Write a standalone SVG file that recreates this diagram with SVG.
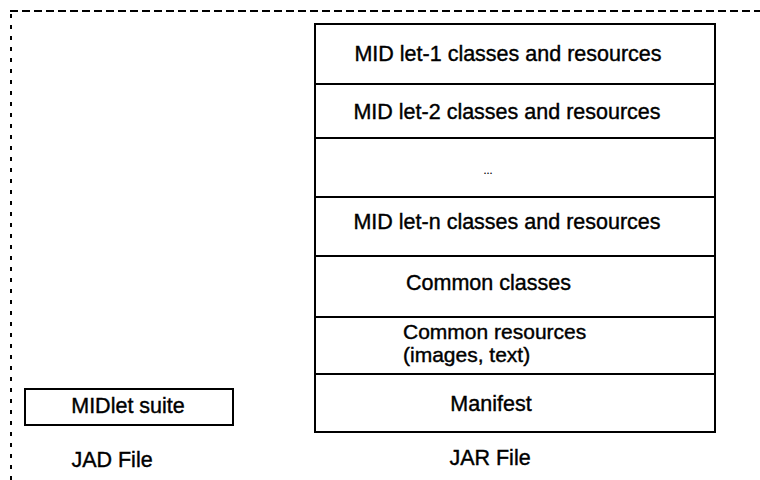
<svg xmlns="http://www.w3.org/2000/svg" width="760" height="480" viewBox="0 0 760 480">
  <style>
    .bg { fill: #ffffff; }
    .frame-top { fill: none; stroke: #000; stroke-width: 2; stroke-dasharray: 8 4; }
    .frame-left { fill: none; stroke: #000; stroke-width: 2; stroke-dasharray: 4 7; }
    .box { fill: #ffffff; stroke: #000; stroke-width: 2; }
    .lbl { font-family: "Liberation Sans", Arial, Helvetica, sans-serif; font-size: 21.5px; fill: #000; stroke: #000; stroke-width: 0.4; }
    .mid { text-anchor: middle; }
  </style>
  <rect class="bg" x="0" y="0" width="760" height="480"/>

  <g id="frame">
    <line class="frame-top" x1="10" y1="11" x2="760" y2="11"/>
    <line class="frame-left" x1="11" y1="14" x2="11" y2="480"/>
  </g>

  <g id="jar-file">
    <g id="row-midlet1">
      <rect class="box" x="315" y="24" width="400" height="60"/>
      <text class="lbl mid" x="508" y="61">MID let-1 classes and resources</text>
    </g>
    <g id="row-midlet2">
      <rect class="box" x="315" y="84" width="400" height="54"/>
      <text class="lbl mid" x="507" y="119">MID let-2 classes and resources</text>
    </g>
    <g id="row-ellipsis">
      <rect class="box" x="315" y="138" width="400" height="59"/>
      <text class="lbl mid" x="488" y="174" style="font-size:11px;stroke-width:0.2">...</text>
    </g>
    <g id="row-midletn">
      <rect class="box" x="315" y="197" width="400" height="59"/>
      <text class="lbl mid" x="507" y="229">MID let-n classes and resources</text>
    </g>
    <g id="row-common-classes">
      <rect class="box" x="315" y="256" width="400" height="61"/>
      <text class="lbl" x="406" y="290">Common classes</text>
    </g>
    <g id="row-common-resources">
      <rect class="box" x="315" y="317" width="400" height="57"/>
      <text class="lbl" x="403" y="338.5" style="font-size:21px">Common resources<tspan x="403" dy="23.5">(images, text)</tspan></text>
    </g>
    <g id="row-manifest">
      <rect class="box" x="315" y="374" width="400" height="58"/>
      <text class="lbl mid" x="491" y="411">Manifest</text>
    </g>
    <text id="jar-label" class="lbl mid" x="490" y="465">JAR File</text>
  </g>

  <g id="jad-file">
    <g id="midlet-suite">
      <rect class="box" x="25" y="389" width="208" height="36"/>
      <text class="lbl mid" x="128" y="413">MIDlet suite</text>
    </g>
    <text id="jad-label" class="lbl mid" x="112" y="467">JAD File</text>
  </g>

  <g id="connectors"/>
</svg>
